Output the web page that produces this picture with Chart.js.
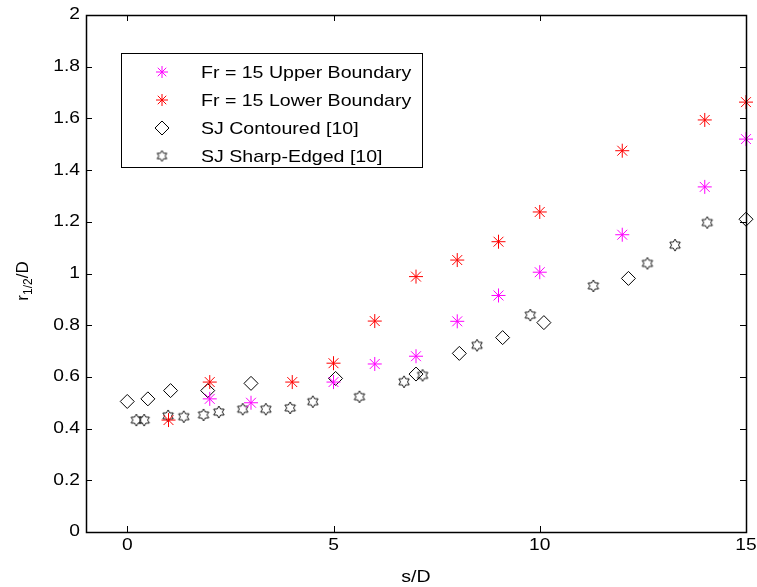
<!DOCTYPE html>
<html>
<head>
<meta charset="utf-8">
<script src="https://cdn.jsdelivr.net/npm/chart.js@4.4.1/dist/chart.umd.min.js"></script>
<style>
  html, body { margin: 0; padding: 0; background: #fff; }
  #wrap { width: 757px; height: 587px; }
</style>
</head>
<body>
<div id="wrap"><canvas id="plot" width="757" height="587"></canvas></div>
<script>
const _MAGENTA = '#ff00ff';
const _RED = '#ff0000';
const _BLACK = '#000000';
const FONT = 'Liberation Sans, Arial, sans-serif';

// values
const upperX = [2, 3, 5, 6, 7, 8, 9, 10, 12, 14, 15];
const upperY = [0.515, 0.50, 0.58, 0.65, 0.68, 0.815, 0.915, 1.005, 1.15, 1.335, 1.52];

const lowerX = [1, 2, 4, 5, 6, 7, 8, 9, 10, 12, 14, 15];
const lowerY = [0.433, 0.58, 0.58, 0.653, 0.816, 0.988, 1.052, 1.123, 1.238, 1.475, 1.594, 1.663];

const contX = [0, 0.5, 1.05, 1.95, 3, 5.05, 7, 8.05, 9.1, 10.1, 12.15, 15];
const contY = [0.505, 0.515, 0.547, 0.547, 0.575, 0.594, 0.611, 0.691, 0.752, 0.81, 0.981, 1.21];

const sharpX = [0.22, 0.41, 0.99, 1.37, 1.85, 2.22, 2.8, 3.36, 3.95, 4.5, 5.63, 6.71, 7.16, 8.48, 9.77, 11.3, 12.61, 13.28, 14.06];
const sharpY = [0.433, 0.433, 0.449, 0.446, 0.453, 0.464, 0.475, 0.475, 0.48, 0.504, 0.523, 0.581, 0.606, 0.722, 0.839, 0.952, 1.039, 1.11, 1.197];

const xTicks = [0, 5, 10, 15];
const yTicks = [0, 0.2, 0.4, 0.6, 0.8, 1, 1.2, 1.4, 1.6, 1.8, 2];

function toPoints(xs, ys) {
    return xs.map((x, i) => ({ x: x, y: ys[i] }));
}

// hexagram marker (matlab 'h')
function makeHexagram(r) {
    const c = document.createElement('canvas');
    const s = Math.ceil(r * 2 + 4);
    c.width = s; c.height = s;
    const g = c.getContext('2d');
    const inner = r / Math.sqrt(3);
    g.beginPath();
    for (let i = 0; i < 12; i++) {
        const a = -Math.PI / 2 + i * Math.PI / 6;
        const rr = (i % 2 === 0) ? r : inner;
        const px = s / 2 + rr * Math.cos(a);
        const py = s / 2 + rr * Math.sin(a);
        if (i === 0) g.moveTo(px, py); else g.lineTo(px, py);
    }
    g.closePath();
    g.strokeStyle = _BLACK;
    g.lineWidth = 0.9;
    g.stroke();
    return c;
}
const hexMarker = makeHexagram(6);
const hexLegend = makeHexagram(5.5);

// the original text is a bit wider than Arial, so stretch it sideways
function wideText(ctx, text, x, y, align, sx) {
    ctx.save();
    ctx.translate(x, y);
    ctx.scale(sx, 1);
    ctx.textAlign = align;
    ctx.fillText(text, 0, 0);
    ctx.restore();
}

// box, inward ticks, labels, axis titles and legend like matlab
const matlabFrame = {
    id: 'matlabFrame',
    afterDraw(chart) {
        const ctx = chart.ctx;
        const a = chart.chartArea;
        const xs = chart.scales.x;
        const ys = chart.scales.y;
        ctx.save();
        ctx.strokeStyle = _BLACK;
        ctx.lineWidth = 1;
        ctx.beginPath();
        for (const v of xTicks) {
            const px = Math.round(xs.getPixelForValue(v)) + 0.5;
            ctx.moveTo(px, a.bottom); ctx.lineTo(px, a.bottom - 6);
            ctx.moveTo(px, a.top); ctx.lineTo(px, a.top + 6);
        }
        for (const v of yTicks) {
            const py = Math.round(ys.getPixelForValue(v)) + 0.5;
            ctx.moveTo(a.left, py); ctx.lineTo(a.left + 6, py);
            ctx.moveTo(a.right, py); ctx.lineTo(a.right - 6, py);
        }
        ctx.stroke();
        ctx.lineWidth = 1.5;
        ctx.strokeRect(Math.round(a.left) + 0.5, Math.round(a.top) + 0.5,
            Math.round(a.right - a.left), Math.round(a.bottom - a.top));

        // tick labels
        ctx.fillStyle = _BLACK;
        ctx.font = '16px ' + FONT;
        ctx.textBaseline = 'middle';
        for (const v of xTicks) {
            wideText(ctx, String(v), xs.getPixelForValue(v), 546, 'center', 1.2);
        }
        for (const v of yTicks) {
            wideText(ctx, String(+v.toFixed(1)), 80, ys.getPixelForValue(v), 'right', 1.2);
        }

        // axis titles
        ctx.font = '17px ' + FONT;
        wideText(ctx, 's/D', (a.left + a.right) / 2, 577, 'center', 1.15);

        ctx.save();
        ctx.translate(28, 281);
        ctx.rotate(-Math.PI / 2);
        ctx.textAlign = 'left';
        ctx.textBaseline = 'alphabetic';
        const big = '17px ' + FONT;
        const small = '12px ' + FONT;
        ctx.font = big; const w1 = ctx.measureText('r').width;
        ctx.font = small; const w2 = ctx.measureText('1/2').width;
        ctx.font = big; const w3 = ctx.measureText('/D').width;
        let cx = -(w1 + w2 + w3) / 2;
        ctx.font = big; ctx.fillText('r', cx, 0); cx += w1;
        ctx.font = small; ctx.fillText('1/2', cx, 4); cx += w2;
        ctx.font = big; ctx.fillText('/D', cx, 0);
        ctx.restore();

        // legend
        const lx = 121, ly = 53, lw = 301, lh = 114;
        ctx.fillStyle = '#fff';
        ctx.fillRect(lx, ly, lw, lh);
        ctx.lineWidth = 1;
        ctx.strokeStyle = _BLACK;
        ctx.strokeRect(lx + 0.5, ly + 0.5, lw, lh);
        const rows = [72, 100, 128, 156];
        ctx.font = '17px ' + FONT;
        ctx.textBaseline = 'middle';
        chart.data.datasets.forEach((ds, i) => {
            const y = rows[i];
            const x = 162;
            if (ds.pointStyle instanceof HTMLCanvasElement) {
                ctx.drawImage(hexLegend, x - hexLegend.width / 2, y - hexLegend.height / 2);
            } else {
                ctx.fillStyle = 'rgba(0,0,0,0)';
                ctx.strokeStyle = ds.borderColor;
                ctx.lineWidth = 1;
                Chart.helpers.drawPoint(ctx, {
                    pointStyle: ds.pointStyle,
                    radius: ds.legendRadius,
                    borderWidth: 1,
                    rotation: 0
                }, x, y);
            }
            ctx.fillStyle = _BLACK;
            wideText(ctx, ds.label, 201, y + 1, 'left', 1.15);
        });
        ctx.restore();
    }
};

const ctxPlot = document.getElementById('plot').getContext('2d');
const plot = new Chart(ctxPlot, {
    type: 'scatter',
    data: {
        datasets: [{
            label: 'Fr = 15 Upper Boundary',
            data: toPoints(upperX, upperY),
            pointStyle: 'star',
            radius: 7,
            legendRadius: 6,
            borderColor: _MAGENTA,
            backgroundColor: _MAGENTA,
            borderWidth: 1,
            clip: false
        }, {
            label: 'Fr = 15 Lower Boundary',
            data: toPoints(lowerX, lowerY),
            pointStyle: 'star',
            radius: 7,
            legendRadius: 6,
            borderColor: _RED,
            backgroundColor: _RED,
            borderWidth: 1,
            clip: false
        }, {
            label: 'SJ Contoured [10]',
            data: toPoints(contX, contY),
            pointStyle: 'rectRot',
            radius: 7,
            legendRadius: 7,
            borderColor: _BLACK,
            backgroundColor: 'rgba(0,0,0,0)',
            borderWidth: 1,
            clip: false
        }, {
            label: 'SJ Sharp-Edged [10]',
            data: toPoints(sharpX, sharpY),
            pointStyle: hexMarker,
            borderColor: _BLACK,
            clip: false
        }]
    },
    options: {
        responsive: false,
        animation: false,
        events: [],
        layout: {
            padding: { top: 15, right: 11, left: 0, bottom: 0 }
        },
        plugins: {
            legend: { display: false },
            tooltip: { enabled: false }
        },
        scales: {
            x: {
                type: 'linear',
                min: -1,
                max: 15,
                afterBuildTicks: (s) => { s.ticks = xTicks.map(v => ({ value: v })); },
                afterFit: (s) => { s.height = 55; },
                grid: { display: false, drawTicks: false },
                border: { display: false },
                ticks: { display: false },
                title: { display: false }
            },
            y: {
                type: 'linear',
                min: 0,
                max: 2,
                afterBuildTicks: (s) => { s.ticks = yTicks.map(v => ({ value: v })); },
                afterFit: (s) => { s.width = 86; },
                grid: { display: false, drawTicks: false },
                border: { display: false },
                ticks: { display: false },
                title: { display: false }
            }
        }
    },
    plugins: [matlabFrame]
});
</script>
</body>
</html>
